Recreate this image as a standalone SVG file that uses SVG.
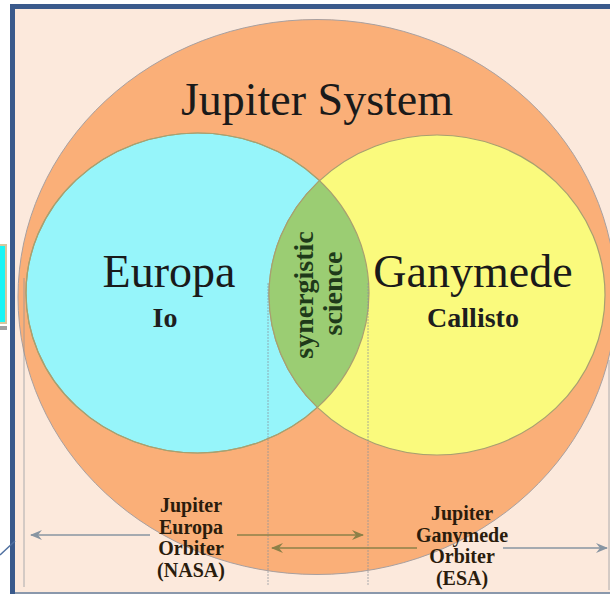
<svg xmlns="http://www.w3.org/2000/svg" width="610" height="597" viewBox="0 0 610 597">
<style>
  .serif { font-family: "Liberation Serif", "Times New Roman", serif; }
  .big { font-size: 46px; fill: #1a1a1a; text-anchor: middle; }
  .sub { font-size: 28px; font-weight: bold; fill: #1e1e1e; text-anchor: middle; }
  .syn { font-size: 28px; font-weight: bold; fill: #1f3a1a; text-anchor: middle; }
  .orb { font-size: 20px; font-weight: bold; fill: #2a1c0c; text-anchor: middle; }
  .ext { stroke: #8a929a; stroke-width: 1; opacity: 0.7; fill: none; }
  .ln-gray { stroke: #8895a2; stroke-width: 1.5; fill: none; }
  .ln-olive { stroke: #8c8048; stroke-width: 1.5; fill: none; }
</style>
<defs>
  <marker id="ahGray" viewBox="0 0 12 10" refX="11" refY="5" markerWidth="12" markerHeight="10" markerUnits="userSpaceOnUse" orient="auto-start-reverse">
    <path d="M0,0 L12,5 L0,10 L4,5 Z" fill="#8895a2"/>
  </marker>
  <marker id="ahOlive" viewBox="0 0 12 10" refX="11" refY="5" markerWidth="12" markerHeight="10" markerUnits="userSpaceOnUse" orient="auto-start-reverse">
    <path d="M0,0 L12,5 L0,10 L4,5 Z" fill="#8c8048"/>
  </marker>
  <clipPath id="cyanClip">
    <ellipse cx="197.5" cy="293" rx="171.5" ry="160"/>
  </clipPath>
</defs>

<!-- page / frame -->
<rect x="0" y="0" width="610" height="597" fill="#ffffff"/>
<rect x="15" y="9" width="595" height="583" fill="#fce9dc"/>
<rect x="10" y="4" width="600" height="5" fill="#3a5a8c"/>
<rect x="10" y="4" width="5" height="590" fill="#3a5a8c"/>
<rect x="15" y="592" width="595" height="2" fill="#8a98ac"/>
<rect x="0" y="326" width="7" height="4" fill="#a0a0a0"/>
<rect x="-2" y="245" width="8" height="78" fill="#19f5f5" stroke="#d6c79e" stroke-width="2"/>
<line x1="0" y1="555" x2="15" y2="541" stroke="#5070a0" stroke-width="1.5"/>

<g id="jupiter-system">
  <ellipse cx="317" cy="297" rx="299" ry="277.5" fill="#faaf78" stroke="#a8a0a0" stroke-width="1"/>
  <text class="serif big" x="317" y="115">Jupiter System</text>
</g>

<g id="europa">
  <ellipse cx="197.5" cy="293" rx="171.5" ry="160" fill="#96f5fa" stroke="#a8a070" stroke-width="1.2"/>
</g>

<g id="ganymede">
  <ellipse cx="437" cy="295" rx="168" ry="160" fill="#fafa7d" stroke="#a8a070" stroke-width="1.2"/>
</g>

<g id="synergy">
  <ellipse cx="437" cy="295" rx="168" ry="160" fill="#9bcd73" stroke="#a8a070" stroke-width="1.2" clip-path="url(#cyanClip)"/>
  <ellipse cx="197.5" cy="293" rx="171.5" ry="160" fill="none" stroke="#a8a070" stroke-width="1.2"/>
</g>

<g id="europa-label">
  <text class="serif big" x="169" y="287">Europa</text>
  <text class="serif sub" x="165" y="327">Io</text>
</g>

<g id="ganymede-label">
  <text class="serif big" x="473" y="287">Ganymede</text>
  <text class="serif sub" x="473" y="327">Callisto</text>
</g>

<g id="synergy-label">
  <text class="serif syn" transform="translate(313,295) rotate(-90)">synergistic</text>
  <text class="serif syn" transform="translate(342,293.5) rotate(-90)">science</text>
</g>

<g id="connectors">
  <line class="ext" x1="24" y1="278" x2="24" y2="587"/>
  <line class="ext" x1="268" y1="283" x2="268" y2="585" stroke-dasharray="2,1"/>
  <line class="ext" x1="368" y1="283" x2="368" y2="585" stroke-dasharray="2,1"/>
  <line class="ext" x1="609" y1="360" x2="609" y2="590"/>
  <!-- NASA span -->
  <line class="ln-gray" x1="150" y1="535" x2="31" y2="535" marker-end="url(#ahGray)"/>
  <line class="ln-olive" x1="237" y1="535" x2="363" y2="535" marker-end="url(#ahOlive)"/>
  <!-- ESA span -->
  <line class="ln-olive" x1="417" y1="548" x2="272" y2="548" marker-end="url(#ahOlive)"/>
  <line class="ln-gray" x1="503" y1="548" x2="607" y2="548" marker-end="url(#ahGray)"/>
</g>

<g id="nasa-label">
  <text class="serif orb" x="191" y="512">Jupiter</text>
  <text class="serif orb" x="191" y="533.5">Europa</text>
  <text class="serif orb" x="191" y="555">Orbiter</text>
  <text class="serif orb" x="191" y="577">(NASA)</text>
</g>

<g id="esa-label">
  <text class="serif orb" x="462" y="520">Jupiter</text>
  <text class="serif orb" x="462" y="541.5">Ganymede</text>
  <text class="serif orb" x="462" y="563">Orbiter</text>
  <text class="serif orb" x="462" y="585">(ESA)</text>
</g>
</svg>
